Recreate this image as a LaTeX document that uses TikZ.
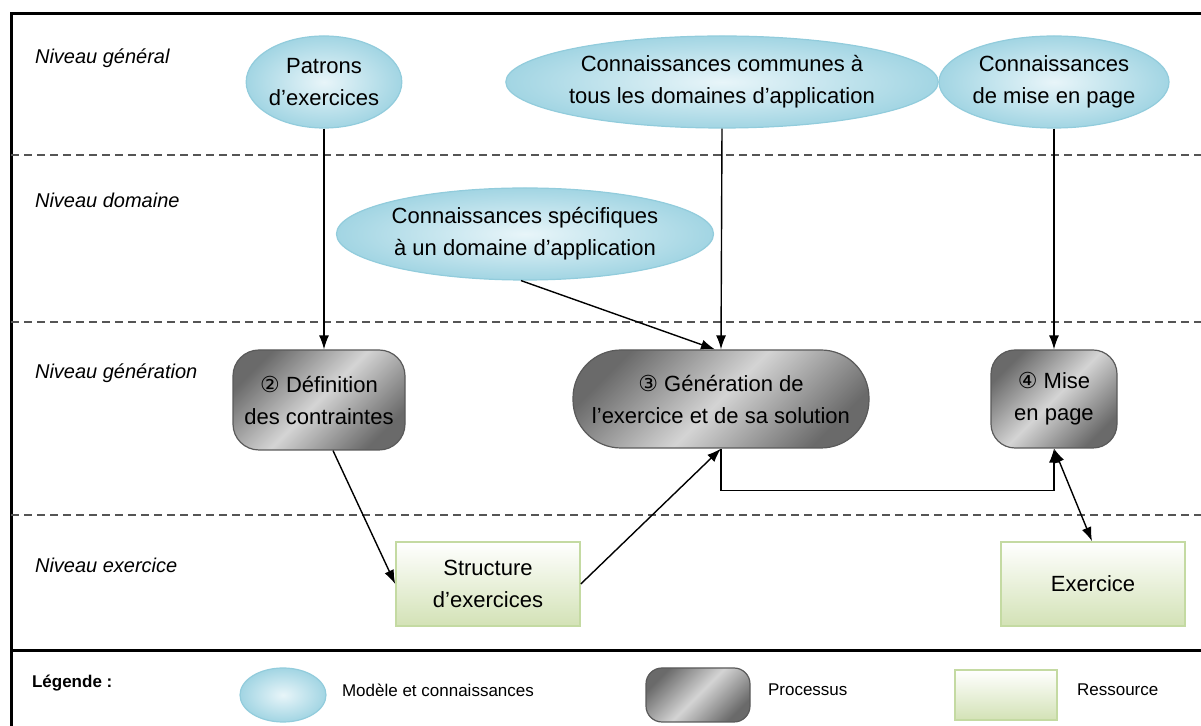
\documentclass[tikz,border=0pt]{standalone}
\usepackage{fontspec}
\setmainfont{Liberation Sans}
\newfontfamily\symfont{DejaVu Sans}
\usetikzlibrary{shapes.geometric,arrows.meta}
\definecolor{modelborder}{HTML}{92CCDC}
\definecolor{modelin}{HTML}{E8F5F9}
\definecolor{modelout}{HTML}{A2D5E3}
\definecolor{procdark}{HTML}{6A6A6A}
\definecolor{proclight}{HTML}{D4D4D4}
\definecolor{procborder}{HTML}{5A5A5A}
\definecolor{resborder}{HTML}{C4DAA2}
\definecolor{resbottom}{HTML}{D3E2B6}
\definecolor{dashgray}{HTML}{555555}
\begin{document}
\begin{tikzpicture}[x=0.5pt,y=-0.5pt,
  every node/.style={font=\fontsize{11}{16}\selectfont, align=center, text=black},
  model/.style={ellipse, draw=modelborder, line width=0.6pt, inner color=modelin, outer color=modelout, inner sep=0pt},
  process/.style={rectangle, draw=procborder, line width=0.6pt, left color=procdark, right color=procdark, middle color=proclight, shading angle=45, inner sep=0pt},
  resource/.style={rectangle, draw=resborder, line width=0.8pt, top color=white, bottom color=resbottom, inner sep=0pt},
  levellabel/.style={anchor=west, font=\fontsize{10}{12}\selectfont\itshape},
  legendtext/.style={anchor=west, font=\fontsize{8.5}{10}\selectfont},
  frameline/.style={line width=1.5pt, black},
  dashline/.style={line width=0.75pt, dashgray, dash pattern=on 4pt off 2.5pt},
  arr/.style={line width=0.7pt, -{Latex[length=7pt,width=5pt]}},
  arrs/.style={line width=0.7pt, {Latex[length=7pt,width=5pt]}-{Latex[length=7pt,width=5pt]}}
]
\useasboundingbox (0,0) rectangle (1201,726);
% frame
\draw[frameline] (1201,14) -- (11,14) -- (11,727);
\draw[frameline] (11,651) -- (1201,651);
\draw[dashline] (11,155) -- (1201,155);
\draw[dashline] (11,322) -- (1201,322);
\draw[dashline] (11,515) -- (1201,515);
% level labels
\node[levellabel] (l1) at (28,58) {Niveau général};
\node[levellabel] (l2) at (28,200) {Niveau domaine};
\node[levellabel] (l3) at (28,373) {Niveau génération};
\node[levellabel] (l4) at (28,565) {Niveau exercice};
% models
\node[model, minimum width=76pt, minimum height=46pt] (pat) at (324,82) {Patrons\\d’exercices};
\node[model, minimum width=207pt, minimum height=46pt] (com) at (722,82) {Connaissances communes à\\tous les domaines d’application};
\node[model, minimum width=112pt, minimum height=46pt] (mep) at (1054,82) {Connaissances\\de mise en page};
\node[model, minimum width=181pt, minimum height=46pt] (spe) at (525,234) {Connaissances spécifiques\\à un domaine d’application};
% processes
\node[process, minimum width=86pt, minimum height=50pt, rounded corners=13pt] (def) at (319,400) {{\symfont ②} Définition\\des contraintes};
\node[process, minimum width=148pt, minimum height=49pt, rounded corners=24pt] (gen) at (721,399) {{\symfont ③} Génération de\\l’exercice et de sa solution};
\node[process, minimum width=63pt, minimum height=49pt, rounded corners=12pt] (mis) at (1054,399) {{\symfont ④} Mise\\en page};
% resources
\node[resource, minimum width=92pt, minimum height=42pt] (str) at (488,584) {Structure\\d’exercices};
\node[resource, minimum width=92pt, minimum height=42pt] (exo) at (1093,584) {Exercice};
% connectors
\draw[arr] (pat.south) -- (pat.south |- def.north);
\draw[arr] (com.south) -- (gen.north);
\draw[arr] ([xshift=-2pt]spe.south) -- ([xshift=-3pt]gen.north);
\draw[arr] (mep.south) -- (mis.north);
\draw[arr] ([xshift=7pt]def.south) -- (str.west);
\draw[arr] (str.east) -- (gen.south);
\draw[arr] (gen.south) -- ++(0,42) -| (mis.south);
\draw[arrs] (mis.south) -- ([xshift=-0.5pt]exo.north);
% legend
\node[anchor=west, font=\fontsize{8.5}{10}\selectfont\bfseries] (leg) at (25,683) {Légende :};
\node[model, minimum width=43pt, minimum height=27pt] (lm) at (283,695) {};
\node[legendtext] (lmt) at (335,690) {Modèle et connaissances};
\node[process, minimum width=52pt, minimum height=27pt, rounded corners=8pt] (lp) at (698,695) {};
\node[legendtext] (lpt) at (761,690) {Processus};
\node[resource, minimum width=51pt, minimum height=25pt] (lr) at (1006,695) {};
\node[legendtext] (lrt) at (1070,690) {Ressource};
\end{tikzpicture}
\end{document}
